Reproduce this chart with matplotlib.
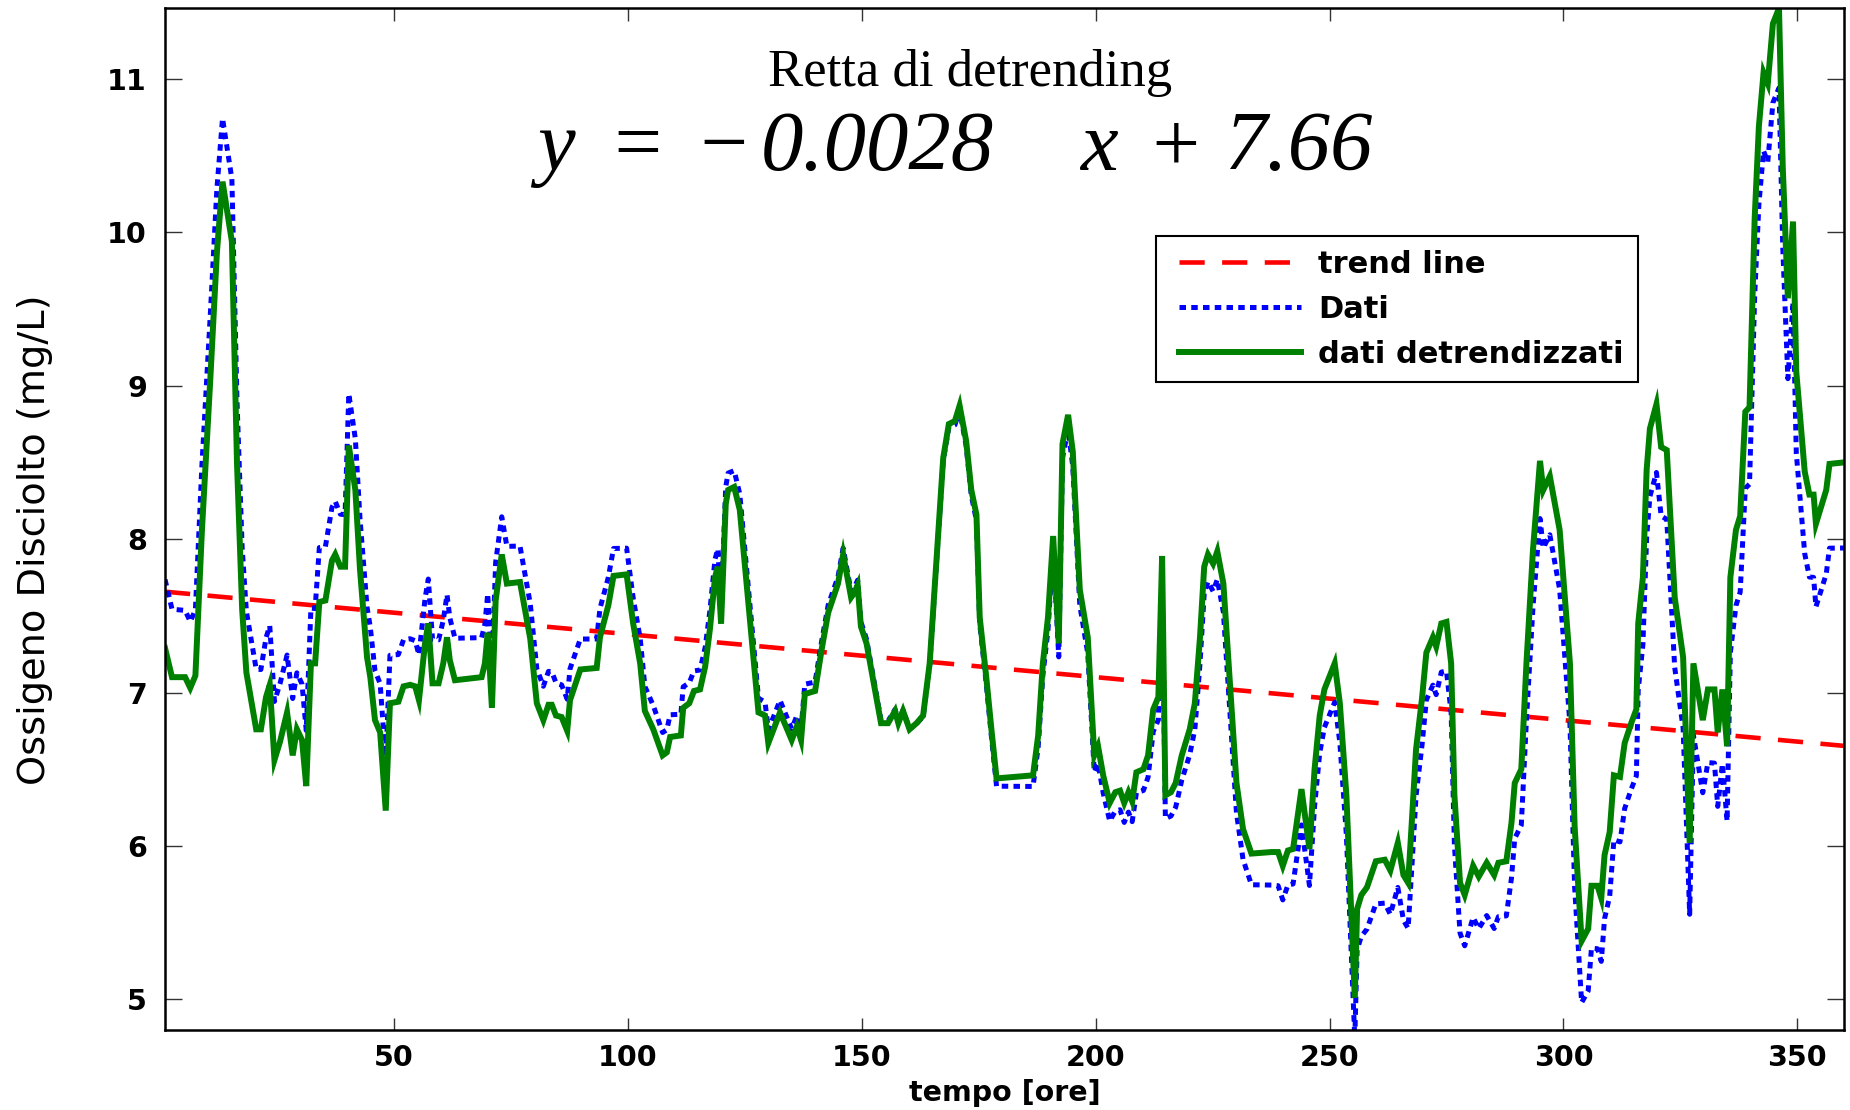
import numpy as np
import matplotlib
matplotlib.use("Agg")
import matplotlib.pyplot as plt
from matplotlib.lines import Line2D
from matplotlib.legend_handler import HandlerLine2D

# time axis (hours) and detrended dissolved-oxygen values (mg/L)
tempo = [1.0, 2.5, 5.3, 6.4, 7.5, 8.9, 10.7, 12.1, 13.3, 15.3, 16.4, 17.5, 18.4, 20.5, 21.5,
         22.6, 23.4, 24.4, 25.6, 27.1, 28.3, 29.2, 30.3, 31.2, 32.2, 33.1, 34.0, 35.3, 36.7,
         37.4, 38.5, 39.5, 40.3, 41.7, 42.7, 44.2, 44.9, 45.9, 47.0, 48.2, 49.1, 50.9, 52.0,
         53.4, 54.5, 55.3, 56.6, 57.3, 58.2, 59.5, 60.5, 61.3, 61.9, 63.0, 68.7, 69.4, 70.0,
         70.9, 71.7, 73.0, 74.1, 76.9, 79.1, 80.5, 81.9, 83.0, 83.7, 84.6, 85.8, 87.0, 87.6,
         89.8, 93.3, 94.0, 95.8, 96.9, 99.7, 101.1, 102.6, 103.6, 105.4, 107.4, 108.3, 109.0,
         111.3, 111.8, 113.1, 114.1, 115.4, 116.5, 117.5, 118.6, 119.2, 119.9, 120.9, 121.4,
         122.7, 123.9, 127.9, 129.3, 130.0, 132.5, 135.0, 136.1, 137.0, 137.8, 140.0, 141.4,
         142.8, 144.9, 146.0, 147.7, 148.4, 149.1, 149.8, 151.0, 154.1, 155.6, 157.1, 157.8,
         158.8, 160.2, 161.7, 163.1, 164.5, 165.9, 167.4, 168.6, 169.9, 170.9, 172.3, 173.4,
         174.5, 175.2, 176.6, 177.7, 178.8, 186.6, 187.7, 188.7, 189.8, 190.9, 192.1, 192.9,
         194.1, 195.1, 196.6, 198.3, 199.7, 200.5, 201.6, 203.0, 204.2, 205.2, 206.1, 207.0,
         207.8, 208.7, 210.2, 211.2, 212.3, 213.4, 214.2, 214.9, 216.1, 217.1, 218.4, 220.1,
         221.2, 222.3, 223.2, 224.0, 225.1, 226.0, 227.3, 228.7, 230.1, 231.5, 233.3, 237.6,
         239.0, 240.0, 241.1, 242.2, 244.0, 245.7, 246.8, 247.9, 248.9, 251.1, 252.2, 253.6,
         255.4, 255.9, 256.8, 258.0, 259.9, 261.8, 263.0, 264.6, 265.8, 266.8, 267.5, 268.5,
         269.8, 270.7, 272.1, 272.8, 273.9, 275.0, 276.0, 276.7, 277.9, 278.9, 280.7, 281.9,
         283.6, 285.2, 286.1, 287.8, 288.9, 289.6, 291.0, 292.1, 293.5, 295.0, 295.7, 297.1,
         299.2, 301.4, 302.4, 303.9, 305.3, 306.0, 307.3, 308.1, 308.8, 309.9, 310.8, 312.1,
         313.1, 314.5, 315.6, 316.0, 317.0, 317.8, 318.5, 319.9, 320.9, 322.1, 323.8, 325.6,
         327.0, 327.8, 329.8, 330.9, 332.3, 333.0, 334.0, 335.0, 335.7, 336.9, 337.8, 338.9,
         339.8, 340.9, 341.8, 342.8, 343.7, 344.8, 346.1, 346.9, 348.0, 349.1, 349.8, 351.6,
         352.6, 353.5, 354.0, 356.2, 356.9, 360.0]

dati_detrendizzati = [7.29, 7.10, 7.10, 7.03, 7.11, 8.06, 9.05, 9.87, 10.33, 9.94, 8.49, 7.54,
                      7.13, 6.76, 6.76, 6.97, 7.05, 6.56, 6.68, 6.87, 6.59, 6.76, 6.69, 6.39,
                      7.19, 7.19, 7.59, 7.60, 7.86, 7.90, 7.82, 7.82, 8.61, 8.32, 7.80, 7.23,
                      7.10, 6.82, 6.74, 6.23, 6.93, 6.94, 7.04, 7.05, 7.04, 6.95, 7.32, 7.45,
                      7.06, 7.06, 7.19, 7.36, 7.21, 7.08, 7.10, 7.19, 7.39, 6.90, 7.60, 7.90,
                      7.71, 7.72, 7.35, 6.93, 6.82, 6.92, 6.92, 6.85, 6.84, 6.75, 6.95, 7.15,
                      7.16, 7.36, 7.57, 7.76, 7.77, 7.45, 7.19, 6.88, 6.76, 6.59, 6.61, 6.71,
                      6.72, 6.90, 6.93, 7.01, 7.02, 7.17, 7.41, 7.75, 7.82, 7.45, 8.23, 8.32,
                      8.34, 8.19, 6.87, 6.85, 6.67, 6.87, 6.69, 6.78, 6.69, 6.99, 7.01, 7.28,
                      7.52, 7.71, 7.90, 7.62, 7.65, 7.70, 7.43, 7.32, 6.80, 6.80, 6.88, 6.80,
                      6.88, 6.76, 6.80, 6.85, 7.19, 7.84, 8.53, 8.75, 8.77, 8.87, 8.64, 8.32,
                      8.16, 7.49, 7.10, 6.76, 6.44, 6.46, 6.72, 7.19, 7.49, 8.02, 7.32, 8.62,
                      8.81, 8.57, 7.67, 7.36, 6.59, 6.65, 6.46, 6.28, 6.35, 6.36, 6.28, 6.35,
                      6.29, 6.48, 6.50, 6.59, 6.89, 6.97, 7.89, 6.33, 6.35, 6.41, 6.59, 6.76,
                      6.93, 7.36, 7.82, 7.90, 7.84, 7.92, 7.71, 7.06, 6.41, 6.11, 5.95, 5.96,
                      5.96, 5.87, 5.97, 5.98, 6.37, 5.98, 6.50, 6.85, 7.02, 7.19, 6.93, 6.33,
                      5.01, 5.59, 5.68, 5.73, 5.90, 5.91, 5.84, 6.02, 5.81, 5.76, 6.11, 6.63,
                      6.97, 7.26, 7.36, 7.30, 7.45, 7.46, 7.19, 6.33, 5.76, 5.68, 5.87, 5.80,
                      5.89, 5.81, 5.89, 5.90, 6.15, 6.41, 6.50, 7.19, 7.93, 8.51, 8.32, 8.41,
                      8.06, 7.19, 6.13, 5.38, 5.46, 5.74, 5.74, 5.66, 5.94, 6.09, 6.46, 6.45,
                      6.67, 6.80, 6.89, 7.45, 7.75, 8.45, 8.72, 8.88, 8.60, 8.58, 7.62, 7.23,
                      6.02, 7.19, 6.82, 7.02, 7.02, 6.74, 7.02, 6.65, 7.75, 8.06, 8.15, 8.83,
                      8.86, 10.09, 10.69, 11.04, 10.97, 11.36, 11.46, 10.43, 9.57, 10.07, 9.09,
                      8.44, 8.29, 8.29, 8.10, 8.32, 8.49, 8.50]

# fitted detrending line y = slope * x + intercept, and the mean level restored after detrending
trend_slope = -0.0028
trend_intercept = 7.66
livello_medio = 7.21

x_ticks = [50, 100, 150, 200, 250, 300, 350]
y_ticks = [5, 6, 7, 8, 9, 10, 11]

x = np.asarray(tempo)
detr = np.asarray(dati_detrendizzati)
trend = trend_slope * x + trend_intercept
dati = detr + trend - livello_medio

W, H = 1850, 1110
AX_L, AX_R, AX_T, AX_B = 165, 1844, 8.3, 1030
fig = plt.figure(figsize=(W / 100, H / 100), dpi=100)
ax = fig.add_axes([AX_L / W, 1 - AX_B / H, (AX_R - AX_L) / W, (AX_B - AX_T) / H])


def ax_x(px):
    return (px - AX_L) / (AX_R - AX_L)


def ax_y(py):
    return 1 - (py - AX_T) / (AX_B - AX_T)


ax.plot(x, trend, color="#ff0000", lw=3.3, ls=(0, (5.5, 3.8)), label="trend line")
ax.plot(x, dati, color="#0000ff", lw=3.6, ls=(0, (1.3, 1.05)), dash_capstyle="butt",
        label="Dati")
ax.plot(x, detr, color="#008000", lw=4.3, label="dati detrendizzati",
        solid_joinstyle="miter")

ax.set_xlim(1, 360)
ax.set_ylim(4.80, 11.46)
ax.set_xticks(x_ticks)
ax.set_yticks(y_ticks)

sans = "DejaVu Sans"
serif = "Liberation Serif"
for lab in ax.get_xticklabels() + ax.get_yticklabels():
    lab.set_fontfamily(sans)
    lab.set_fontweight("bold")
    lab.set_fontsize(20.5)
ax.tick_params(axis="both", direction="in", top=True, right=True, width=1.0,
               color="#333333")
ax.tick_params(axis="y", length=12, pad=13)
ax.tick_params(axis="x", length=9, pad=10)
for sp in ax.spines.values():
    sp.set_linewidth(1.8)

ax.set_xlabel("tempo [ore]", fontfamily=sans, fontweight="bold", fontsize=20.5, labelpad=5)
fig.text(35 / W, 1 - 540 / H, "Ossigeno Disciolto (mg/L)", rotation=90, ha="center",
         va="center", fontfamily=sans, fontsize=27.5)

ax.text(0.4797, ax_y(86), "Retta di detrending", transform=ax.transAxes, ha="center",
        va="baseline", fontfamily=serif, fontsize=38)

# equation of the detrending line, set piece by piece with generous spacing
eq_base = ax_y(170)
for token, px in [("y", 555.7), ("=", 637.1), ("\u2212", 723.2), ("0.0028", 877.0),
                  ("x", 1098.4), ("+", 1175.1), ("7.66", 1298.0)]:
    ax.text(ax_x(px), eq_base, token, transform=ax.transAxes, ha="center", va="baseline",
            fontfamily=serif, fontstyle="italic", fontsize=61)

fs_leg = 22
leg = ax.legend(loc="upper left", bbox_to_anchor=(ax_x(1156.2), ax_y(236)), borderaxespad=0,
                fancybox=False, framealpha=1, edgecolor="black", handlelength=4.3,
                prop={"family": sans, "weight": "bold", "size": fs_leg},
                labelspacing=0.52, borderpad=0.45, handletextpad=0.55,
                handler_map={Line2D: HandlerLine2D(xpad=0.3)})
leg.get_frame().set_linewidth(1.5)

fig.savefig("out.png", dpi=100)
